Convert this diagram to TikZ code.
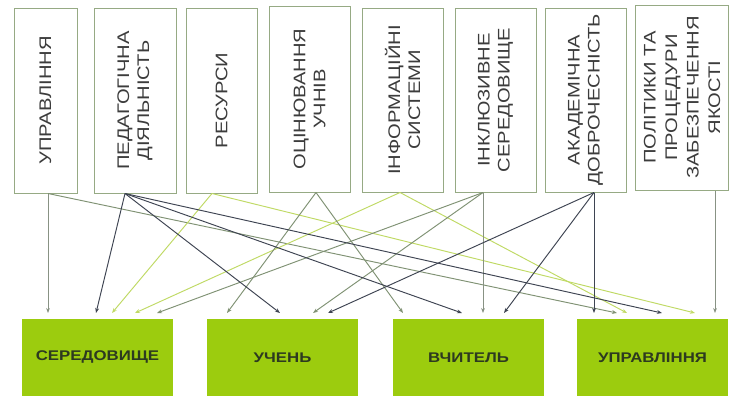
\documentclass[tikz,border=0pt]{standalone}
\usepackage{fontspec}
\setmainfont{Liberation Sans}[FakeStretch=1.2]
\usetikzlibrary{arrows.meta}
\definecolor{boxc}{RGB}{150,170,132}
\definecolor{dk}{RGB}{62,68,82}
\definecolor{gg}{RGB}{128,146,116}
\definecolor{lg}{RGB}{192,218,100}
\definecolor{gv}{RGB}{136,146,132}
\definecolor{fillg}{RGB}{156,204,14}
\definecolor{txtd}{RGB}{45,58,32}
\definecolor{txtt}{RGB}{60,60,60}
\begin{document}
\begin{tikzpicture}[x=1pt,y=-1pt,
  topbox/.style={draw=boxc, line width=0.9pt, fill=white, rotate=90, align=center,
    inner sep=0pt, font=\fontsize{16.8}{20}\selectfont, text=txtt},
  botbox/.style={fill=fillg, inner sep=0pt, minimum width=151pt, minimum height=77pt,
    font=\bfseries\fontsize{14}{16}\selectfont, text=txtd},
  conn/.style={line width=0.95pt, -{Stealth[length=5pt,width=3.8pt]}},
  cdk/.style={conn, draw=dk},
  cgg/.style={conn, draw=gg},
  clg/.style={conn, draw=lg},
  cgv/.style={conn, draw=gv}]
\useasboundingbox (0,0) rectangle (733,396);
\fill[white] (0,0) rectangle (733,396);

% top boxes
\node[topbox, minimum width=185pt, minimum height=63pt] (t1) at (45.5,100.5) {УПРАВЛІННЯ};
\node[topbox, minimum width=185pt, minimum height=82pt] (t2) at (135,100.5) {ПЕДАГОГІЧНА\\ДІЯЛЬНІСТЬ};
\node[topbox, minimum width=185pt, minimum height=71pt] (t3) at (221.5,100.5) {РЕСУРСИ};
\node[topbox, minimum width=186pt, minimum height=81pt] (t4) at (309.5,99) {ОЦІНЮВАННЯ\\УЧНІВ};
\node[topbox, minimum width=184pt, minimum height=81pt] (t5) at (402.5,100) {ІНФОРМАЦІЙНІ\\СИСТЕМИ};
\node[topbox, minimum width=184pt, minimum height=81pt] (t6) at (495.5,100) {ІНКЛЮЗИВНЕ\\СЕРЕДОВИЩЕ};
\node[topbox, minimum width=184pt, minimum height=81pt] (t7) at (585.5,100) {АКАДЕМІЧНА\\ДОБРОЧЕСНІСТЬ};
\node[topbox, minimum width=185pt, minimum height=93pt, font=\fontsize{16.8}{21.5}\selectfont] (t8) at (682,97.5) {ПОЛІТИКИ ТА\\ПРОЦЕДУРИ\\ЗАБЕЗПЕЧЕННЯ\\ЯКОСТІ};

% bottom boxes
\node[botbox] (b1) at (97.5,357.5) {СЕРЕДОВИЩЕ};
\node[botbox] (b2) at (282.5,357.5) {УЧЕНЬ};
\node[botbox] (b3) at (468.5,357.5) {ВЧИТЕЛЬ};
\node[botbox] (b4) at (652.5,357.5) {УПРАВЛІННЯ};

% source points
\coordinate (sU) at (48,193.5);
\coordinate (sP) at (125,193.5);
\coordinate (sR) at (212,193.5);
\coordinate (sO) at (316,192.5);
\coordinate (sI) at (400,192.5);
\coordinate (sK) at (483,192.5);
\coordinate (sA) at (594,192.5);
\coordinate (sL) at (715,190.5);

% end points
\coordinate (e1a) at (48,313);
\coordinate (e1b) at (96,313);
\coordinate (e1c) at (112,313);
\coordinate (e1d) at (135,313);
\coordinate (e1e) at (157,313);
\coordinate (e2a) at (227,313);
\coordinate (e2b) at (280,313);
\coordinate (e2c) at (313,313);
\coordinate (e2d) at (328,313);
\coordinate (e3a) at (403,313);
\coordinate (e3b) at (462,313);
\coordinate (e3c) at (483,313);
\coordinate (e3d) at (504,313);
\coordinate (e4a) at (594,313);
\coordinate (e4b) at (617,313);
\coordinate (e4c) at (627,313);
\coordinate (e4d) at (662,313);
\coordinate (e4e) at (695,313);
\coordinate (e4f) at (715,313);

% connectors
\draw[cgv] (sU) -- (e1a);
\draw[cgg] (sU) -- (e4b);
\draw[clg] (sR) -- (e1c);
\draw[clg] (sR) -- (e4e);
\draw[clg] (sI) -- (e1d);
\draw[clg] (sI) -- (e4c);
\draw[cgg] (sO) -- (e2a);
\draw[cgg] (sO) -- (e3a);
\draw[cgg] (sK) -- (e1e);
\draw[cgg] (sK) -- (e2c);
\draw[cgv] (sK) -- (e3c);
\draw[cdk] (sP) -- (e1b);
\draw[cdk] (sP) -- (e2b);
\draw[cdk] (sP) -- (e3b);
\draw[cdk] (sP) -- (e4d);
\draw[cdk] (sA) -- (e2d);
\draw[cdk] (sA) -- (e3d);
\draw[cdk] (sA) -- (e4a);
\draw[cgv] (sL) -- (e4f);
\end{tikzpicture}
\end{document}
